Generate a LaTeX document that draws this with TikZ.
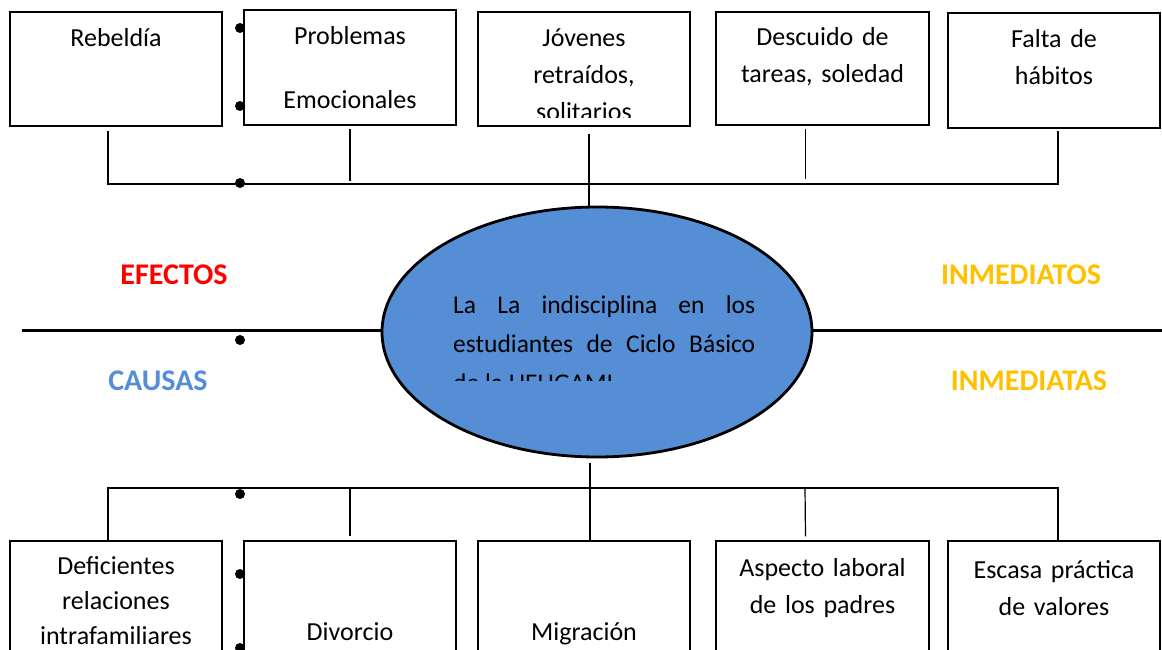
\documentclass[tikz,border=0pt]{standalone}
\usepackage{fontspec}
\setmainfont{Carlito}
\usepackage{xcolor}
\usepackage{tikz}
\usetikzlibrary{shapes.geometric,positioning,calc}

\definecolor{efred}{HTML}{FF0000}
\definecolor{inmgold}{HTML}{FFC000}
\definecolor{causblue}{HTML}{558ED5}

\begin{document}
\begin{tikzpicture}[x=1pt,y=-1pt,
    box/.style={draw, line width=1.3pt, minimum width=212pt, minimum height=114pt, inner sep=0pt},
    txt/.style={font=\fontsize{26}{37}\selectfont, text width=210pt, align=center, inner sep=0pt, anchor=base},
    conn/.style={line width=1.2pt},
    head/.style={font=\fontsize{30}{34}\selectfont\bfseries, inner sep=0pt}]
    \useasboundingbox (0,0) rectangle (1162,650);

    % Problem (centre)
    \draw[line width=3pt] (22,330) -- (1162,330);
    \node[ellipse, draw, line width=2.8pt, fill=causblue, minimum width=430pt, minimum height=250pt, inner sep=0pt] (prob) at (597,332) {};
    \begin{scope}
    \clip (440,280) rectangle (770,380);
    \node[font=\fontsize{25.5}{39}\selectfont, text width=302pt, align=justify, inner sep=0pt, anchor=base west] (probtxt) at (453,313)
        {La La indisciplina en los\linebreak estudiantes de Ciclo Básico\linebreak de la UEUGAMI};
    \end{scope}

    % Headings
    \node[head, text=efred] (efectos) at (174,275) {EFECTOS};
    \node[head, text=inmgold] (inmed1) at (1021,275) {INMEDIATOS};
    \node[head, text=causblue] (causas) at (158,381) {CAUSAS};
    \node[head, text=inmgold] (inmed2) at (1029,381) {INMEDIATAS};

    % Effects (top)
    \node[box] (e1) at (116,69) {};
    \node[txt] (e1t) at (116,47) {Rebeldía};
    \node[box, minimum height=115pt] (e2) at (350,67.5) {};
    \node[txt] (e2t) at (350,45) {Problemas};
    \node[txt] (e2u) at (350,109) {Emocionales};
    \node[box] (e3) at (584,69) {};
    \begin{scope}
    \clip (480,14) rectangle (688,118);
    \node[txt] (e3t) at (584,47) {Jóvenes\\ retraídos,\\ solitarios};
    \end{scope}
    \node[box, minimum width=213pt, minimum height=113pt] (e4) at (822.5,68.5) {};
    \node[txt] (e4t) at (822.5,46) {Descuido de\\ tareas, soledad};
    \node[box, minimum height=115pt] (e5) at (1054,70.5) {};
    \node[txt] (e5t) at (1054,48) {Falta de\\ hábitos};

    \coordinate (tl) at (108,184);
    \coordinate (tr) at (1058,184);
    \draw[conn] ([xshift=-8pt,yshift=-4pt]e1.south) -- (tl) -- (tr) -- ([xshift=4pt,yshift=-2pt]e5.south);
    \draw[conn] ([yshift=-3pt]e2.south) -- ++(0,52);
    \draw[conn] ([xshift=5pt,yshift=-7pt]e3.south) -- ([xshift=5pt]e3.south |- prob.north);
    \draw[conn] ([xshift=-17pt,yshift=-3pt]e4.south) -- ++(0,50);

    % Causes (bottom)
    \node[box, minimum height=130pt] (c1) at (116,606) {};
    \node[txt] (c1t) at (116,574) {Deficientes\\[-2pt] relaciones\\[-2pt] intrafamiliares};
    \node[box, minimum height=130pt] (c2) at (350,606) {};
    \node[txt] (c2t) at (350,640) {Divorcio};
    \node[box, minimum height=130pt] (c3) at (584,606) {};
    \node[txt] (c3t) at (584,640) {Migración};
    \node[box, minimum width=213pt, minimum height=130pt] (c4) at (822.5,606) {};
    \node[txt] (c4t) at (822.5,576) {Aspecto laboral\\ de los padres};
    \node[box, minimum height=130pt] (c5) at (1054,606) {};
    \node[txt] (c5t) at (1054,578) {Escasa práctica\\ de valores};

    \coordinate (bl) at (108,488);
    \coordinate (br) at (1058,488);
    \draw[conn] ([xshift=-8pt]c1.north) -- (bl) -- (br) -- ([xshift=4pt]c5.north);
    \draw[conn] ([xshift=6pt,yshift=-5pt]prob.south -| c3.north) -- ([xshift=6pt]c3.north);
    \draw[conn] (350,488) -- ([yshift=4pt]c2.north);
    \draw[conn] (805,488) -- ([xshift=-17pt,yshift=4pt]c4.north);

    % Bullets
    \foreach \y in {28,106,183,340,494,574,648}
        \fill (240,\y) circle (5pt);
\end{tikzpicture}
\end{document}
